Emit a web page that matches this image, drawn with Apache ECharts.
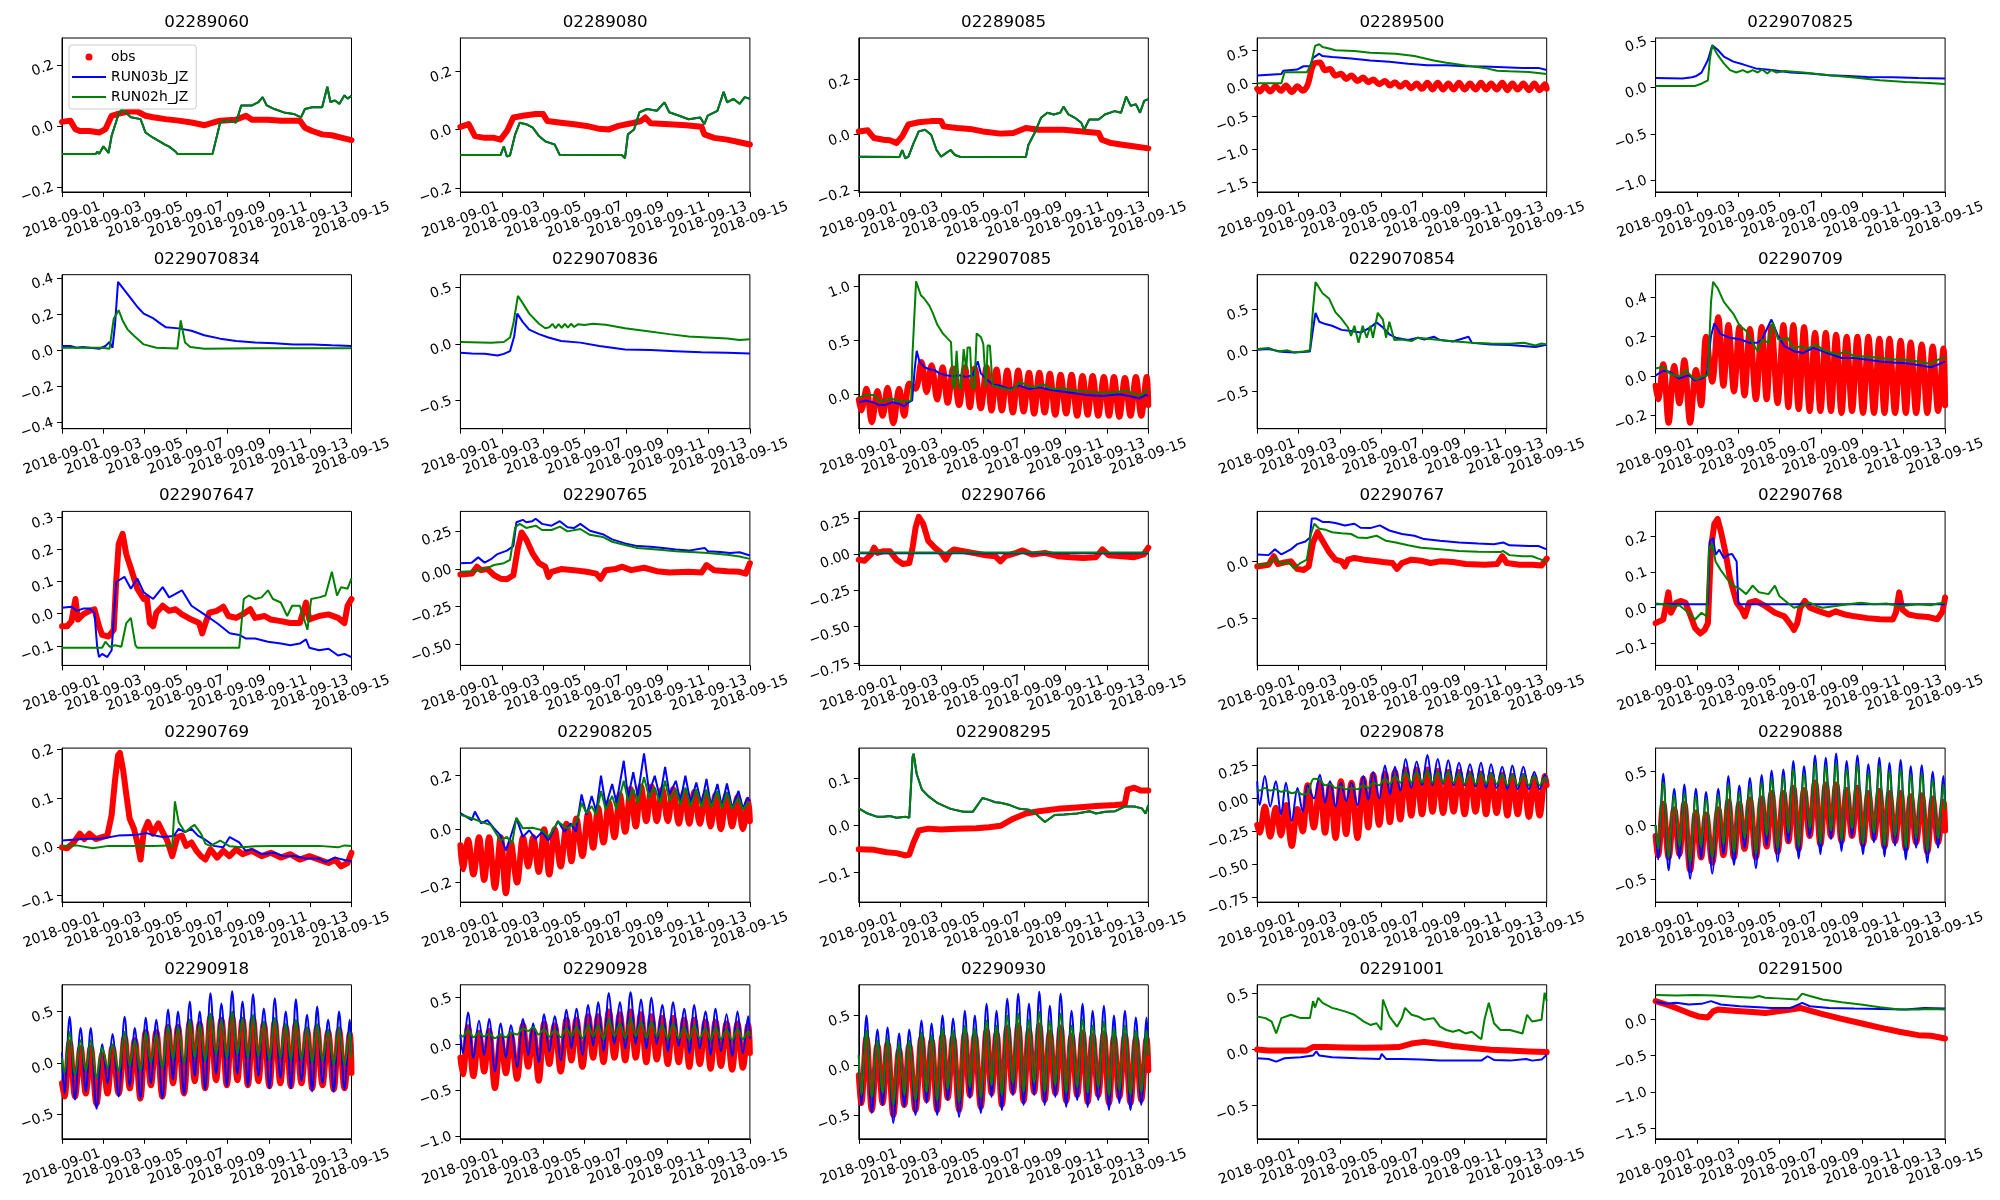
<!DOCTYPE html>
<html><head><meta charset="utf-8">
<script src="https://cdn.jsdelivr.net/npm/echarts@6/dist/echarts.min.js"></script>
<style>html,body{margin:0;padding:0;background:#fff}#c{width:2000px;height:1200px}</style>
</head><body><div id="c"></div>
<script>
// x axis: days since 2018-09-01
const xTickDays = [0, 2, 4, 6, 8, 10, 12, 14];
const seriesNames = ['obs', 'RUN03b_JZ', 'RUN02h_JZ'];
// sample times (days) of tidal peaks / troughs
const tideT = [0,0.12,0.37,0.63,0.90,1.15,1.39,1.67,1.95,2.20,2.44,2.74,3.03,3.28,3.52,3.79,4.05,4.30,4.56,4.85,5.13,5.37,5.61,5.90,6.18,6.42,6.66,6.92,7.18,7.45,7.71,7.97,8.23,8.48,8.73,8.99,9.24,9.50,9.76,10.03,10.29,10.56,10.82,11.07,11.31,11.58,11.85,12.10,12.34,12.60,12.87,13.14,13.40,13.66,13.92,14.0];

// ---- 02289060
const p1Sim = [[0,-0.092],[1.63,-0.092],[1.72,-0.085],[1.8,-0.092],[2.0,-0.067],[2.25,-0.089],[2.4,-0.033],[2.71,0.033],[2.9,0.055],[3.33,0.028],[3.8,0.022],[4.04,-0.022],[4.4,-0.039],[4.7,-0.05],[4.96,-0.061],[5.2,-0.069],[5.5,-0.085],[5.58,-0.092],[7.28,-0.092],[7.65,0.011],[7.96,0.017],[8.42,0.011],[8.67,0.067],[9.19,0.067],[9.5,0.078],[9.7,0.094],[9.9,0.067],[10.27,0.055],[10.73,0.044],[11.2,0.039],[11.56,0.028],[11.75,0.055],[12.1,0.061],[12.58,0.061],[12.83,0.128],[12.98,0.078],[13.2,0.083],[13.42,0.072],[13.66,0.1],[13.81,0.089],[14,0.098]];
const p1Obs = [[0,0.013],[0.4,0.017],[0.65,-0.011],[0.86,-0.017],[1.33,-0.017],[1.8,-0.022],[2.1,-0.011],[2.4,0.033],[2.71,0.039],[3.2,0.047],[3.64,0.047],[4.04,0.033],[4.4,0.028],[5.0,0.022],[5.64,0.017],[6.26,0.011],[6.9,0.002],[7.34,0.011],[7.65,0.017],[8.4,0.02],[8.9,0.033],[9.19,0.02],[9.96,0.02],[10.58,0.017],[11.5,0.017],[11.75,-0.006],[12.1,-0.017],[12.58,-0.028],[13.04,-0.031],[13.5,-0.039],[14,-0.047]];
// ---- 02289080
const p2Sim = [[0,-0.087],[1.94,-0.087],[2.1,-0.057],[2.25,-0.092],[2.4,-0.088],[2.65,-0.016],[2.87,0.024],[3.18,0.019],[3.5,0.007],[3.8,-0.022],[4.1,-0.04],[4.56,-0.051],[4.8,-0.086],[7.8,-0.087],[7.96,-0.098],[8.1,-0.016],[8.4,0.001],[8.66,0.06],[9.03,0.071],[9.5,0.065],[9.87,0.094],[10.1,0.06],[10.58,0.048],[11.04,0.036],[11.6,0.042],[11.8,0.019],[11.96,0.048],[12.43,0.065],[12.73,0.13],[12.9,0.094],[13.2,0.106],[13.5,0.089],[13.75,0.112],[14,0.106]];
const p2Obs = [[0,0.01],[0.4,0.019],[0.7,-0.022],[1.17,-0.028],[1.63,-0.028],[1.94,-0.034],[2.25,-0.005],[2.56,0.042],[3.02,0.048],[3.64,0.054],[4.0,0.054],[4.2,0.03],[4.87,0.024],[5.5,0.019],[6.1,0.013],[6.72,0.003],[7.18,0.001],[7.65,0.013],[8.26,0.022],[8.73,0.03],[8.94,0.042],[9.2,0.022],[10.1,0.019],[10.9,0.015],[11.66,0.01],[11.8,-0.016],[12.27,-0.028],[12.9,-0.034],[13.5,-0.043],[14,-0.051]];
// ---- 02289085
const p3Sim = [[0,-0.079],[1.97,-0.08],[2.1,-0.055],[2.25,-0.085],[2.4,-0.079],[2.65,-0.03],[2.9,0.012],[3.2,0.018],[3.5,0.0],[3.76,-0.055],[3.98,-0.079],[4.2,-0.067],[4.44,-0.055],[4.65,-0.073],[4.9,-0.079],[8.08,-0.08],[8.2,-0.037],[8.5,0.006],[8.81,0.061],[9.12,0.079],[9.43,0.073],[9.74,0.079],[9.9,0.101],[10.14,0.073],[10.45,0.061],[10.76,0.043],[10.9,0.018],[11.14,0.055],[11.6,0.055],[11.9,0.073],[12.37,0.085],[12.68,0.079],[12.93,0.137],[13.15,0.104],[13.4,0.11],[13.6,0.079],[13.8,0.122],[14,0.128]];
const p3Obs = [[0,0.012],[0.43,0.016],[0.74,-0.012],[1.2,-0.018],[1.5,-0.02],[1.82,-0.03],[2.1,-0.006],[2.4,0.037],[2.9,0.045],[3.5,0.049],[3.98,0.049],[4.1,0.03],[4.75,0.024],[5.37,0.021],[6.0,0.012],[6.85,0.004],[7.47,0.006],[8.08,0.024],[8.7,0.018],[9.3,0.018],[9.9,0.018],[10.83,0.012],[11.6,0.006],[11.75,-0.018],[12.2,-0.03],[12.83,-0.037],[13.45,-0.043],[14,-0.049]];
// ---- 02289500
const p4Blue = [[0,0.123],[1.17,0.144],[1.26,0.195],[1.93,0.211],[2.24,0.262],[2.55,0.262],[2.7,0.39],[3.0,0.452],[3.16,0.416],[3.62,0.401],[4.54,0.38],[5.47,0.35],[6.39,0.329],[7.3,0.298],[8.23,0.278],[9.15,0.278],[10.07,0.262],[11.0,0.257],[11.9,0.247],[12.83,0.237],[13.6,0.237],[14,0.206]];
const p4Green = [[0,0.005],[1.17,0.005],[1.32,0.17],[2.4,0.17],[2.6,0.288],[2.8,0.571],[3.0,0.596],[3.16,0.555],[3.47,0.53],[3.78,0.504],[4.7,0.494],[5.47,0.468],[6.7,0.452],[7.6,0.416],[8.54,0.35],[9.15,0.314],[10.07,0.272],[11.0,0.237],[11.6,0.195],[12.2,0.185],[13.14,0.175],[14,0.144]];
const p4Obs = [-0.08,-0.12,-0.04,-0.12,-0.04,-0.11,-0.03,-0.13,-0.04,-0.11,
 -0.02,0.3,0.32,0.2,0.22,0.12,0.15,0.07,0.12,0.04,
 0.09,0.02,0.06,-0.01,0.04,-0.03,0.02,-0.05,0.01,-0.07,
 0.0,-0.08,0.01,-0.09,0.01,-0.09,0.0,-0.09,0.01,-0.09,
 0.0,-0.09,0.01,-0.09,0.0,-0.09,0.01,-0.1,0.0,-0.09,
 0.0,-0.1,0.0,-0.1,-0.01,-0.08];
// ---- 0229070825
const p5Blue = [[0,0.102],[1.3,0.095],[1.76,0.11],[1.97,0.124],[2.22,0.16],[2.53,0.296],[2.74,0.454],[3.0,0.406],[3.3,0.333],[3.76,0.278],[4.22,0.249],[4.84,0.205],[5.6,0.187],[6.54,0.161],[7.46,0.15],[8.39,0.132],[9.3,0.124],[10.24,0.113],[11.47,0.11],[12.7,0.102],[14,0.095]];
const p5Green = [[0,0.015],[1.9,0.015],[2.22,0.04],[2.53,0.077],[2.63,0.315],[2.74,0.454],[3.0,0.351],[3.3,0.26],[3.6,0.187],[3.9,0.161],[4.22,0.187],[4.44,0.161],[4.7,0.187],[4.94,0.161],[5.15,0.194],[5.4,0.15],[5.6,0.187],[5.85,0.161],[6.23,0.176],[7.15,0.161],[8.39,0.132],[9.6,0.106],[10.85,0.077],[12.1,0.059],[13.0,0.051],[14,0.037]];
// ---- 0229070834
const p6Blue = [[0,0.023],[0.4,0.023],[0.7,0.013],[1.0,0.017],[1.8,0.008],[2.1,0.023],[2.3,0.045],[2.44,0.013],[2.56,0.136],[2.71,0.379],[3.0,0.336],[3.33,0.288],[3.64,0.241],[3.95,0.203],[4.4,0.178],[4.78,0.146],[5.03,0.127],[5.64,0.121],[6.26,0.108],[6.88,0.083],[7.65,0.064],[8.42,0.051],[9.34,0.042],[10.27,0.038],[11.2,0.032],[12.1,0.032],[13.04,0.027],[14,0.023]];
const p6Green = [[0,0.013],[1.94,0.013],[2.3,0.008],[2.5,0.174],[2.74,0.222],[2.93,0.165],[3.18,0.114],[3.48,0.08],[3.95,0.032],[4.56,0.013],[5.58,0.009],[5.74,0.165],[5.95,0.042],[6.2,0.017],[6.88,0.008],[9.34,0.01],[14,0.011]];
// ---- 0229070836
const p7Green = [[0,0.018],[1.48,0.012],[2.1,0.018],[2.4,0.057],[2.56,0.178],[2.78,0.425],[3.02,0.358],[3.33,0.268],[3.8,0.178],[4.1,0.139],[4.3,0.148],[4.45,0.178],[4.6,0.139],[4.75,0.175],[4.9,0.142],[5.05,0.178],[5.2,0.145],[5.35,0.178],[5.5,0.15],[5.7,0.175],[6.0,0.168],[6.4,0.178],[7.03,0.169],[7.96,0.139],[8.88,0.117],[10.1,0.087],[11.04,0.066],[11.96,0.057],[12.9,0.048],[13.5,0.036],[14,0.042]];
const p7Blue = [[0,-0.078],[0.55,-0.084],[1.17,-0.087],[1.8,-0.102],[2.1,-0.087],[2.4,-0.063],[2.6,0.066],[2.75,0.268],[3.02,0.193],[3.33,0.127],[3.8,0.087],[4.26,0.057],[4.87,0.027],[5.8,0.012],[6.72,-0.018],[7.96,-0.048],[9.2,-0.054],[10.4,-0.063],[11.66,-0.072],[12.9,-0.078],[14,-0.084]];
// ---- 022907085
const p8Green = [[0,-0.032],[0.35,-0.006],[0.76,-0.006],[1.0,-0.065],[1.24,-0.058],[1.56,-0.039],[1.96,-0.065],[2.29,-0.065],[2.53,-0.058],[2.6,0.387],[2.77,1.048],[2.85,1.06],[3.0,0.919],[3.17,0.887],[3.41,0.823],[3.57,0.758],[3.8,0.645],[4.06,0.565],[4.3,0.516],[4.46,0.484],[4.54,0.097],[4.62,0.048],[4.73,0.403],[4.83,0.097],[4.94,0.048],[5.07,0.419],[5.2,0.226],[5.26,0.435],[5.38,0.435],[5.47,0.065],[5.59,0.048],[5.7,0.565],[5.9,0.532],[6.02,0.468],[6.15,0.065],[6.23,0.452],[6.34,0.452],[6.47,0.081],[6.8,0.065],[7.12,0.048],[7.36,0.039],[7.6,0.071],[7.76,0.113],[8.0,0.097],[8.24,0.071],[8.49,0.065],[8.73,0.081],[8.97,0.09],[9.21,0.058],[9.53,0.048],[9.86,0.058],[10.18,0.039],[10.66,0.032],[10.98,0.026],[11.63,0.016],[12.27,0.016],[12.92,0.032],[13.4,0.0],[13.72,-0.006],[13.88,0.039],[14,0.032]];
const p8Blue = [[0,-0.074],[0.35,-0.058],[0.76,-0.08],[1.0,-0.103],[1.32,-0.097],[1.64,-0.074],[1.96,-0.09],[2.2,-0.113],[2.37,-0.08],[2.58,-0.058],[2.7,0.226],[2.8,0.403],[2.93,0.306],[3.17,0.252],[3.41,0.232],[3.65,0.226],[3.9,0.194],[4.22,0.177],[4.54,0.168],[4.86,0.177],[5.19,0.161],[5.51,0.177],[5.75,0.306],[5.9,0.194],[6.15,0.145],[6.47,0.09],[6.8,0.081],[7.28,0.048],[7.76,0.081],[8.24,0.048],[8.73,0.065],[9.05,0.048],[9.53,0.032],[10.18,0.016],[10.98,-0.006],[11.79,-0.016],[12.6,0.0],[13.08,-0.016],[13.56,-0.039],[13.88,-0.006],[14,-0.016]];
const p8Obs = [-0.05,-0.15,0.05,-0.26,0.03,-0.2,0.06,-0.27,0.05,-0.2,
 0.1,0.05,0.3,0.02,0.27,-0.05,0.25,-0.08,0.24,-0.1,
 0.25,-0.12,0.24,-0.13,0.25,-0.15,0.23,-0.15,0.22,-0.17,
 0.22,-0.16,0.2,-0.18,0.2,-0.17,0.19,-0.19,0.18,-0.18,
 0.18,-0.2,0.17,-0.19,0.17,-0.2,0.16,-0.2,0.16,-0.21,
 0.15,-0.2,0.16,-0.2,0.16,-0.1];
// ---- 0229070854
const p9Green = [[0,0.017],[0.55,0.029],[1.0,-0.013],[1.47,0.0],[1.78,-0.025],[2.24,-0.013],[2.55,0.0],[2.7,0.51],[2.82,0.837],[3.16,0.699],[3.47,0.636],[3.78,0.469],[4.08,0.385],[4.39,0.28],[4.54,0.176],[4.7,0.301],[4.9,0.092],[5.1,0.301],[5.3,0.155],[5.47,0.301],[5.6,0.155],[5.83,0.46],[6.08,0.377],[6.23,0.155],[6.39,0.351],[6.63,0.126],[7.0,0.134],[7.46,0.113],[7.77,0.155],[8.23,0.142],[8.84,0.126],[9.46,0.113],[10.38,0.092],[11.3,0.084],[12.22,0.08],[12.9,0.092],[13.45,0.059],[13.75,0.084],[14,0.071]];
const p9Blue = [[0,0.008],[0.55,0.017],[1.17,-0.017],[1.78,-0.025],[2.55,-0.013],[2.7,0.259],[2.82,0.46],[3.0,0.351],[3.3,0.322],[3.62,0.301],[4.08,0.251],[4.54,0.238],[5.0,0.218],[5.47,0.28],[5.77,0.343],[6.08,0.28],[6.39,0.197],[6.7,0.155],[7.3,0.126],[7.77,0.155],[8.08,0.134],[8.54,0.167],[8.84,0.126],[9.46,0.109],[10.22,0.167],[10.38,0.092],[11.3,0.071],[12.22,0.067],[13.45,0.042],[14,0.067]];
// ---- 02290709
const p10Green = [[0,0.038],[0.37,0.047],[0.68,0.012],[1.14,-0.005],[1.45,0.03],[1.76,-0.005],[1.97,-0.019],[2.22,-0.005],[2.53,0.003],[2.68,0.378],[2.78,0.48],[3.0,0.448],[3.3,0.378],[3.76,0.317],[4.07,0.256],[4.38,0.23],[4.69,0.169],[4.93,0.126],[5.15,0.187],[5.46,0.169],[5.67,0.274],[5.92,0.187],[6.23,0.187],[6.38,0.195],[6.69,0.138],[7.0,0.152],[7.3,0.138],[7.77,0.16],[8.08,0.134],[8.54,0.117],[8.85,0.108],[9.16,0.126],[9.62,0.099],[10.24,0.099],[10.85,0.091],[11.47,0.085],[12.09,0.082],[12.7,0.073],[13.32,0.061],[13.63,0.082],[14,0.096]];
const p10Blue = [[0,0.003],[0.37,0.026],[0.68,0.021],[1.14,-0.014],[1.6,0.003],[1.9,-0.023],[2.22,-0.014],[2.47,0.003],[2.68,0.204],[2.84,0.269],[3.15,0.213],[3.6,0.195],[4.07,0.187],[4.53,0.169],[4.93,0.169],[5.15,0.187],[5.6,0.288],[5.92,0.204],[6.23,0.152],[6.69,0.126],[7.15,0.117],[7.62,0.143],[8.08,0.126],[8.54,0.108],[9.0,0.091],[9.62,0.091],[10.24,0.082],[10.85,0.073],[11.47,0.068],[12.09,0.065],[12.7,0.056],[13.32,0.044],[13.63,0.056],[14,0.073]];
const p10Obs = [-0.05,-0.12,0.06,-0.24,0.05,-0.14,0.08,-0.24,0.03,-0.15,
 0.2,-0.03,0.3,-0.05,0.26,-0.08,0.25,-0.1,0.24,-0.12,
 0.25,-0.12,0.25,-0.14,0.26,-0.16,0.26,-0.17,0.25,-0.18,
 0.22,-0.18,0.22,-0.18,0.21,-0.19,0.2,-0.18,0.2,-0.19,
 0.2,-0.19,0.19,-0.19,0.19,-0.19,0.18,-0.19,0.17,-0.19,
 0.16,-0.19,0.15,-0.18,0.14,-0.15];
// ---- 022907647
const p11Obs = [[0,-0.039],[0.25,-0.039],[0.46,-0.023],[0.65,0.046],[0.77,-0.018],[1.02,-0.002],[1.33,0.009],[1.57,0.014],[1.79,-0.039],[1.94,-0.066],[2.25,-0.071],[2.5,-0.05],[2.62,0.099],[2.74,0.217],[2.93,0.249],[3.11,0.185],[3.33,0.142],[3.64,0.078],[3.95,0.046],[4.1,0.051],[4.25,-0.029],[4.41,-0.039],[4.56,0.003],[4.87,0.025],[5.18,0.009],[5.49,0.014],[5.8,-0.002],[6.26,-0.018],[6.63,-0.029],[6.78,-0.061],[6.94,-0.029],[7.12,0.003],[7.49,0.009],[7.8,0.022],[8.05,-0.007],[8.42,-0.013],[8.73,-0.002],[9.1,0.014],[9.34,-0.013],[9.8,-0.007],[10.1,-0.018],[10.58,-0.023],[11.04,-0.029],[11.5,-0.029],[11.8,0.035],[11.96,-0.018],[12.43,-0.007],[12.89,-0.002],[13.35,-0.013],[13.66,-0.029],[13.81,0.025],[14,0.046]];
const p11Blue = [[0,0.019],[0.46,0.022],[0.71,0.009],[1.02,0.016],[1.33,0.016],[1.57,0.003],[1.7,-0.103],[1.79,-0.135],[1.94,-0.125],[2.19,-0.135],[2.4,-0.114],[2.62,0.099],[3.02,0.115],[3.33,0.078],[3.64,0.11],[3.95,0.067],[4.41,0.046],[4.87,0.083],[5.18,0.051],[5.8,0.073],[6.26,0.025],[6.88,-0.002],[7.49,-0.029],[8.11,-0.061],[8.57,-0.066],[8.88,-0.077],[9.34,-0.077],[9.96,-0.087],[10.58,-0.093],[11.04,-0.098],[11.5,-0.093],[11.8,-0.08],[11.96,-0.106],[12.43,-0.114],[12.89,-0.109],[13.35,-0.13],[13.66,-0.125],[14,-0.135]];
const p11Green = [[0,-0.106],[1.94,-0.106],[2.1,-0.087],[2.31,-0.103],[2.56,-0.098],[2.87,-0.103],[3.11,-0.029],[3.33,-0.013],[3.55,-0.098],[3.64,-0.106],[8.57,-0.106],[8.79,0.046],[9.03,0.057],[9.34,0.046],[9.65,0.051],[9.96,0.073],[10.2,0.046],[10.58,0.035],[10.89,-0.007],[11.13,0.025],[11.5,0.025],[11.87,-0.05],[12.05,0.046],[12.43,0.051],[12.74,0.057],[13.05,0.131],[13.3,0.057],[13.5,0.083],[13.81,0.078],[14,0.11]];
// ---- 02290765
const p12Blue = [[0,0.039],[0.55,0.043],[0.86,0.078],[1.17,0.043],[1.48,0.066],[1.79,0.1],[2.25,0.123],[2.56,0.153],[2.71,0.312],[3.02,0.328],[3.18,0.312],[3.48,0.319],[3.64,0.335],[3.95,0.301],[4.41,0.289],[4.81,0.319],[5.18,0.278],[5.49,0.273],[5.8,0.301],[6.26,0.255],[6.88,0.232],[7.34,0.198],[7.96,0.171],[8.57,0.153],[9.19,0.148],[9.8,0.141],[10.42,0.13],[11.04,0.123],[11.81,0.141],[11.97,0.119],[12.58,0.114],[13.04,0.107],[13.5,0.112],[14,0.091]];
const p12Green = [[0,-0.018],[0.71,-0.014],[1.17,0.0],[1.63,0.027],[2.1,0.039],[2.4,0.062],[2.65,0.278],[2.87,0.301],[3.18,0.274],[3.64,0.289],[3.95,0.26],[4.41,0.26],[4.81,0.283],[5.18,0.251],[5.8,0.267],[6.26,0.228],[6.88,0.214],[7.34,0.182],[7.96,0.16],[8.57,0.141],[9.5,0.13],[10.42,0.119],[11.35,0.112],[11.97,0.107],[12.9,0.096],[13.5,0.084],[14,0.068]];
const p12Obs = [[0,-0.036],[0.55,-0.03],[0.8,0.016],[1.0,-0.007],[1.32,0.0],[1.63,-0.041],[1.94,-0.064],[2.25,-0.068],[2.56,-0.041],[2.78,0.141],[2.96,0.244],[3.18,0.198],[3.48,0.107],[3.8,0.039],[4.1,0.016],[4.26,-0.052],[4.41,-0.018],[4.87,0.0],[5.49,-0.007],[6.1,-0.018],[6.57,-0.03],[6.78,-0.064],[7.03,-0.007],[7.5,0.0],[7.8,0.016],[8.26,-0.007],[8.88,0.009],[9.5,-0.014],[10.11,-0.023],[11.04,-0.018],[11.66,-0.023],[11.9,0.027],[12.27,-0.007],[12.9,-0.014],[13.5,-0.018],[13.8,-0.03],[14,0.039]];
// ---- 02290766
const p13Obs = [[0,-0.038],[0.28,-0.045],[0.59,-0.002],[0.74,0.045],[0.9,0.009],[1.2,0.021],[1.5,0.021],[1.82,-0.038],[2.13,-0.068],[2.44,-0.061],[2.6,0.045],[2.75,0.186],[2.9,0.257],[3.11,0.21],[3.36,0.092],[3.67,0.045],[3.98,0.009],[4.2,-0.038],[4.38,0.009],[4.6,0.033],[5.06,0.021],[5.52,0.009],[6.14,-0.007],[6.6,-0.014],[6.85,-0.05],[7.09,-0.014],[7.62,0.009],[7.92,0.026],[8.38,-0.002],[9.0,0.009],[9.62,-0.014],[10.23,-0.021],[10.85,-0.026],[11.47,-0.021],[11.78,0.033],[12.09,-0.007],[12.7,-0.014],[13.32,-0.021],[13.78,-0.002],[14,0.045]];
const p13Blue = [[0,0.007],[14,0.007]];
const p13Green = [[0,0.012],[14,0.012]];
// ---- 02290767
const p14Blue = [[0,0.064],[0.55,0.058],[0.86,0.109],[1.17,0.064],[1.63,0.109],[1.93,0.155],[2.33,0.179],[2.55,0.215],[2.64,0.382],[2.86,0.382],[3.16,0.352],[3.47,0.352],[3.78,0.342],[4.24,0.321],[4.7,0.336],[5.0,0.3],[5.47,0.297],[5.93,0.321],[6.39,0.276],[7.0,0.245],[7.6,0.23],[8.07,0.2],[8.84,0.185],[9.76,0.17],[10.68,0.161],[11.45,0.155],[11.9,0.17],[12.2,0.145],[13.14,0.139],[13.6,0.139],[14,0.109]];
const p14Green = [[0,-0.027],[0.55,-0.021],[0.86,0.033],[1.17,-0.021],[1.47,0.003],[1.78,-0.058],[2.09,-0.012],[2.4,0.018],[2.6,0.245],[2.76,0.336],[3.0,0.291],[3.32,0.282],[3.62,0.26],[4.08,0.251],[4.54,0.245],[4.85,0.215],[5.3,0.209],[5.77,0.23],[6.23,0.185],[6.7,0.17],[7.3,0.145],[7.92,0.124],[8.84,0.109],[9.76,0.094],[10.68,0.088],[11.76,0.085],[11.9,0.094],[12.2,0.058],[12.83,0.048],[13.3,0.048],[13.6,0.027],[14,0.003]];
const p14Obs = [[0,-0.042],[0.55,-0.027],[0.8,0.048],[1.0,-0.021],[1.32,-0.006],[1.63,0.003],[1.93,-0.064],[2.24,-0.073],[2.49,-0.042],[2.7,0.17],[2.92,0.261],[3.16,0.185],[3.47,0.088],[3.78,0.018],[4.08,0.003],[4.24,-0.042],[4.39,0.018],[4.7,0.033],[5.16,0.018],[5.62,0.009],[6.08,-0.003],[6.54,-0.012],[6.76,-0.064],[7.0,-0.012],[7.46,0.018],[7.92,0.009],[8.38,-0.012],[8.84,0.003],[9.46,-0.003],[10.07,-0.021],[11.0,-0.027],[11.6,-0.021],[11.85,0.048],[12.07,-0.012],[12.68,-0.027],[13.3,-0.027],[13.75,-0.033],[14,0.027]];
// ---- 02290768
const p15Blue = [[0,0.01],[2.53,0.01],[2.62,0.186],[2.78,0.194],[2.9,0.148],[3.08,0.162],[3.3,0.138],[3.52,0.148],[3.7,0.15],[3.92,0.129],[4.0,0.01],[14,0.01]];
const p15Green = [[0,0.012],[0.37,0.01],[0.83,0.005],[1.14,0.007],[1.6,-0.014],[1.91,-0.033],[2.22,-0.014],[2.47,-0.024],[2.59,0.167],[2.74,0.179],[2.9,0.129],[3.15,0.105],[3.45,0.081],[3.76,0.062],[4.07,0.053],[4.38,0.038],[4.69,0.062],[5.0,0.043],[5.46,0.038],[5.77,0.062],[5.98,0.033],[6.38,0.014],[6.69,0.0],[7.0,0.005],[7.46,0.014],[7.77,0.005],[8.08,0.0],[8.7,0.005],[9.31,0.01],[9.93,0.014],[10.55,0.01],[11.16,0.012],[11.78,0.005],[12.24,0.007],[12.7,0.01],[13.32,0.007],[13.63,0.012],[14,0.014]];
const p15Obs = [[0,-0.043],[0.37,-0.033],[0.62,0.043],[0.74,-0.014],[0.99,0.014],[1.23,0.019],[1.45,0.014],[1.7,-0.024],[1.91,-0.057],[2.16,-0.072],[2.37,-0.062],[2.53,-0.043],[2.68,0.167],[2.84,0.234],[3.0,0.248],[3.15,0.215],[3.4,0.148],[3.6,0.081],[3.92,0.014],[4.16,-0.005],[4.32,-0.024],[4.53,0.014],[4.84,0.019],[5.3,0.005],[5.77,-0.014],[6.23,-0.024],[6.54,-0.048],[6.69,-0.062],[6.85,-0.043],[7.0,0.0],[7.22,0.019],[7.46,0.0],[7.92,-0.01],[8.39,-0.019],[8.7,-0.01],[9.16,-0.019],[9.62,-0.024],[10.24,-0.029],[10.85,-0.032],[11.47,-0.033],[11.62,-0.014],[11.78,0.043],[11.93,-0.005],[12.24,-0.019],[12.7,-0.024],[13.17,-0.026],[13.63,-0.032],[13.88,-0.01],[14,0.029]];
// ---- 02290769
const p16Obs = [[0,-0.001],[0.25,-0.003],[0.56,0.009],[0.86,0.027],[1.08,0.016],[1.33,0.027],[1.63,0.016],[1.94,0.02],[2.19,0.023],[2.4,0.065],[2.56,0.135],[2.71,0.187],[2.8,0.192],[2.96,0.156],[3.11,0.107],[3.27,0.058],[3.48,0.037],[3.64,0.009],[3.8,-0.026],[3.95,0.03],[4.16,0.051],[4.4,0.027],[4.66,0.048],[4.87,0.03],[5.09,0.013],[5.33,-0.019],[5.58,0.02],[5.8,0.023],[6.0,0.002],[6.26,0.009],[6.5,-0.008],[6.72,-0.019],[6.94,-0.026],[7.18,-0.005],[7.5,-0.022],[7.8,-0.008],[8.1,-0.019],[8.42,-0.005],[8.73,-0.015],[9.19,-0.008],[9.65,-0.019],[10.1,-0.012],[10.58,-0.022],[11.04,-0.015],[11.5,-0.026],[11.96,-0.019],[12.43,-0.026],[12.89,-0.033],[13.2,-0.026],[13.5,-0.04],[13.81,-0.033],[14,-0.012]];
const p16Blue = [[0,0.013],[1.02,0.016],[1.94,0.017],[2.71,0.023],[3.48,0.024],[4.1,0.028],[4.4,0.024],[4.87,0.02],[5.4,0.022],[5.64,0.037],[5.95,0.03],[6.26,0.037],[6.57,0.023],[6.88,0.016],[7.34,0.002],[7.8,-0.001],[8.11,0.02],[8.57,0.009],[8.88,-0.008],[9.19,-0.005],[9.65,-0.015],[10.27,-0.012],[10.73,-0.019],[11.2,-0.018],[11.81,-0.024],[12.43,-0.024],[12.74,-0.031],[13.2,-0.022],[13.66,-0.027],[14,-0.029]];
const p16Green = [[0,0.002],[0.71,0.003],[1.48,-0.003],[2.25,0.002],[3.18,0.002],[4.4,0.002],[5.18,0.003],[5.33,0.0],[5.46,0.093],[5.64,0.051],[5.95,0.03],[6.26,0.041],[6.41,0.045],[6.72,0.027],[6.94,0.006],[7.18,0.002],[7.65,0.013],[8.11,0.001],[8.73,-0.001],[9.34,0.001],[10.27,0.002],[11.2,0.002],[12.43,0.002],[13.35,-0.001],[13.66,0.003],[14,0.002]];
// ---- 022908205
const p17Blue = [[0,0.06],[0.55,0.034],[0.7,0.066],[1.0,0.022],[1.3,0.034],[1.63,0.003],[1.94,-0.023],[2.19,-0.08],[2.4,-0.036],[2.71,0.041],[3.02,-0.029],[3.33,-0.004],[3.64,-0.036],[3.95,-0.01],[4.26,-0.042],[4.72,0.031],[5.03,-0.01],[5.33,0.022],[5.58,-0.01],[5.86,0.13],[6.1,0.054],[6.35,0.124],[6.57,0.066],[6.8,0.2],[7.03,0.086],[7.34,0.169],[7.55,0.098],[7.9,0.256],[8.11,0.117],[8.36,0.213],[8.57,0.124],[8.88,0.284],[9.13,0.137],[9.4,0.2],[9.65,0.117],[9.9,0.233],[10.11,0.13],[10.42,0.181],[10.64,0.105],[10.88,0.2],[11.13,0.098],[11.41,0.175],[11.66,0.092],[11.9,0.188],[12.12,0.086],[12.43,0.169],[12.64,0.086],[12.89,0.171],[13.14,0.079],[13.45,0.143],[13.66,0.077],[13.88,0.118],[14,0.105]];
const p17Green = [[0,0.054],[0.55,0.041],[1.0,0.028],[1.48,0.015],[1.94,-0.042],[2.25,-0.029],[2.5,-0.055],[2.71,0.043],[3.02,0.003],[3.48,0.005],[3.95,-0.004],[4.26,-0.029],[4.72,0.028],[5.18,0.003],[5.64,0.028],[5.86,0.098],[6.1,0.06],[6.35,0.086],[6.57,0.054],[6.8,0.143],[7.03,0.073],[7.34,0.124],[7.55,0.073],[7.9,0.181],[8.11,0.105],[8.36,0.149],[8.57,0.098],[8.88,0.194],[9.13,0.118],[9.4,0.156],[9.65,0.098],[9.9,0.181],[10.11,0.105],[10.42,0.149],[10.64,0.092],[10.88,0.156],[11.13,0.086],[11.41,0.149],[11.66,0.082],[11.9,0.149],[12.12,0.082],[12.43,0.143],[12.64,0.079],[12.89,0.137],[13.14,0.077],[13.45,0.118],[13.66,0.073],[13.88,0.098],[14,0.092]];
const p17Obs = [-0.06,-0.15,-0.04,-0.17,-0.03,-0.19,-0.03,-0.22,-0.03,-0.24,
 -0.05,-0.2,-0.03,-0.14,-0.03,-0.16,0.0,-0.17,0.0,-0.14,
 0.02,-0.12,0.04,-0.1,0.06,-0.07,0.08,-0.05,0.1,-0.03,
 0.13,-0.01,0.15,0.01,0.16,0.03,0.16,0.03,0.15,0.03,
 0.15,0.02,0.14,0.02,0.14,0.02,0.13,0.01,0.13,0.0,
 0.13,0.01,0.12,0.0,0.11,0.03];
// ---- 022908295
const p18Sim = [[0,0.036],[0.43,0.025],[0.9,0.018],[1.2,0.018],[1.5,0.02],[1.82,0.016],[2.28,0.018],[2.44,0.016],[2.6,0.145],[2.65,0.152],[2.8,0.109],[3.05,0.076],[3.36,0.062],[3.82,0.047],[4.44,0.035],[5.06,0.029],[5.52,0.029],[5.98,0.058],[6.29,0.054],[6.6,0.049],[6.85,0.048],[7.3,0.043],[7.77,0.035],[8.23,0.033],[8.54,0.025],[9.0,0.007],[9.47,0.022],[9.93,0.023],[10.55,0.025],[11.16,0.03],[11.47,0.025],[11.93,0.029],[12.4,0.03],[12.86,0.04],[13.32,0.04],[13.69,0.036],[13.87,0.025],[14,0.043]];
const p18Obs = [[0,-0.051],[0.74,-0.052],[1.35,-0.057],[1.82,-0.059],[2.28,-0.064],[2.44,-0.062],[2.65,-0.036],[2.9,-0.011],[3.36,-0.007],[3.98,-0.009],[4.75,-0.007],[5.68,-0.006],[6.29,-0.004],[6.85,-0.001],[7.47,0.014],[8.08,0.025],[8.7,0.03],[9.62,0.035],[10.55,0.038],[11.47,0.041],[12.4,0.043],[12.86,0.045],[13.0,0.076],[13.32,0.08],[13.63,0.074],[14,0.074]];
// ---- 02290878
const p19Blue = [0.13,-0.05,0.17,-0.06,0.13,-0.12,0.12,-0.17,0.08,-0.1,
 0.1,0.0,0.18,-0.03,0.13,-0.06,0.12,-0.02,0.12,-0.05,
 0.17,-0.01,0.2,0.0,0.25,0.03,0.24,0.06,0.3,0.08,
 0.28,0.1,0.33,0.1,0.3,0.11,0.29,0.1,0.27,0.1,
 0.26,0.09,0.27,0.08,0.26,0.08,0.24,0.07,0.25,0.07,
 0.24,0.07,0.2,0.07,0.18,0.12];
const p19Green = [0.07,0.06,0.08,0.06,0.07,0.05,0.06,0.04,0.05,0.03,
 0.04,0.15,0.14,0.1,0.11,0.08,0.09,0.07,0.08,0.07,
 0.1,0.08,0.12,0.1,0.15,0.11,0.17,0.12,0.2,0.12,
 0.2,0.12,0.21,0.12,0.2,0.12,0.2,0.12,0.19,0.11,
 0.19,0.11,0.19,0.11,0.19,0.11,0.18,0.1,0.18,0.1,
 0.18,0.1,0.17,0.1,0.16,0.12];
const p19Obs = [-0.2,-0.26,-0.06,-0.29,-0.07,-0.28,-0.05,-0.36,-0.08,-0.25,
 0.1,-0.22,0.12,-0.26,0.1,-0.3,0.13,-0.27,0.12,-0.3,
 0.15,-0.22,0.18,-0.2,0.19,-0.18,0.2,-0.16,0.22,-0.13,
 0.22,-0.12,0.22,-0.1,0.21,-0.11,0.2,-0.1,0.2,-0.12,
 0.19,-0.1,0.19,-0.12,0.18,-0.11,0.18,-0.13,0.17,-0.12,
 0.17,-0.14,0.16,-0.13,0.17,0.1];
// ---- 02290888
const p20Blue = [0.0,-0.32,0.48,-0.42,0.34,-0.31,0.38,-0.5,0.34,-0.31,
 0.31,-0.45,0.34,-0.27,0.46,-0.37,0.37,-0.21,0.44,-0.4,
 0.47,-0.19,0.51,-0.34,0.52,-0.16,0.6,-0.31,0.55,-0.11,
 0.65,-0.27,0.63,-0.13,0.67,-0.24,0.6,-0.11,0.65,-0.27,
 0.57,-0.16,0.63,-0.29,0.58,-0.19,0.61,-0.32,0.55,-0.21,
 0.56,-0.35,0.5,-0.21,0.46,0.2];
const p20Green = [0.0,-0.22,0.4,-0.3,0.28,-0.2,0.3,-0.35,0.27,-0.2,
 0.25,-0.3,0.28,-0.18,0.38,-0.25,0.3,-0.12,0.36,-0.27,
 0.4,-0.1,0.43,-0.22,0.45,-0.07,0.52,-0.2,0.48,-0.03,
 0.57,-0.17,0.55,-0.05,0.58,-0.14,0.52,-0.03,0.56,-0.17,
 0.49,-0.07,0.55,-0.19,0.5,-0.1,0.52,-0.21,0.47,-0.12,
 0.48,-0.24,0.42,-0.12,0.38,0.15];
const p20Obs = [-0.1,-0.28,0.2,-0.3,0.15,-0.27,0.2,-0.42,0.12,-0.3,
 0.1,-0.35,0.15,-0.28,0.22,-0.3,0.2,-0.22,0.24,-0.3,
 0.25,-0.2,0.3,-0.25,0.3,-0.15,0.35,-0.22,0.33,-0.1,
 0.4,-0.18,0.38,-0.1,0.38,-0.15,0.33,-0.1,0.35,-0.18,
 0.3,-0.12,0.32,-0.2,0.3,-0.15,0.3,-0.22,0.27,-0.16,
 0.28,-0.25,0.25,-0.16,0.22,-0.05];
// ---- 02290918
const p21Blue = [0.1,-0.3,0.45,-0.36,0.34,-0.28,0.34,-0.45,0.18,-0.2,
 0.28,-0.33,0.45,-0.23,0.34,-0.35,0.44,-0.2,0.42,-0.35,
 0.52,-0.16,0.5,-0.31,0.6,-0.13,0.5,-0.26,0.68,-0.11,
 0.58,-0.23,0.7,-0.11,0.6,-0.23,0.67,-0.13,0.53,-0.25,
 0.63,-0.15,0.5,-0.25,0.62,-0.18,0.47,-0.28,0.55,-0.2,
 0.42,-0.28,0.5,-0.26,0.42,0.1];
const p21Green = [0.05,-0.1,0.3,-0.12,0.22,-0.08,0.22,-0.15,0.15,-0.05,
 0.18,-0.08,0.3,-0.03,0.22,-0.08,0.3,0.0,0.28,-0.05,
 0.36,0.03,0.35,0.0,0.42,0.05,0.38,0.02,0.48,0.08,
 0.42,0.05,0.5,0.08,0.44,0.05,0.47,0.06,0.4,0.03,
 0.44,0.05,0.38,0.02,0.42,0.03,0.35,0.0,0.38,0.02,
 0.32,-0.02,0.35,-0.02,0.3,0.05];
const p21Obs = [-0.2,-0.33,0.2,-0.33,0.15,-0.3,0.15,-0.4,0.08,-0.3,
 0.15,-0.3,0.25,-0.25,0.22,-0.35,0.3,-0.22,0.3,-0.33,
 0.35,-0.2,0.35,-0.3,0.4,-0.18,0.38,-0.25,0.45,-0.17,
 0.42,-0.22,0.45,-0.17,0.42,-0.22,0.43,-0.18,0.38,-0.23,
 0.4,-0.2,0.35,-0.23,0.38,-0.2,0.32,-0.25,0.35,-0.22,
 0.3,-0.26,0.32,-0.25,0.28,-0.1];
// ---- 02290928
const p22Blue = [0.1,-0.1,0.34,-0.15,0.25,-0.12,0.27,-0.3,0.22,-0.15,
 0.2,-0.25,0.27,-0.12,0.22,-0.2,0.32,-0.08,0.3,-0.18,
 0.37,-0.05,0.38,-0.12,0.42,-0.02,0.45,-0.08,0.55,0.0,
 0.45,-0.05,0.56,0.0,0.48,-0.05,0.5,0.0,0.42,-0.08,
 0.45,-0.02,0.38,-0.1,0.42,-0.05,0.35,-0.12,0.38,-0.08,
 0.32,-0.13,0.35,-0.1,0.3,0.05];
const p22Green = [0.1,0.08,0.15,0.07,0.12,0.08,0.11,0.06,0.1,0.07,
 0.12,0.1,0.17,0.14,0.18,0.1,0.16,0.08,0.15,0.07,
 0.17,0.08,0.18,0.06,0.2,0.08,0.2,0.05,0.27,0.08,
 0.22,0.06,0.28,0.08,0.24,0.06,0.24,0.08,0.2,0.05,
 0.22,0.06,0.18,0.04,0.2,0.06,0.17,0.04,0.18,0.05,
 0.15,0.04,0.16,0.05,0.14,0.08];
const p22Obs = [-0.15,-0.33,0.18,-0.35,0.12,-0.3,0.14,-0.48,0.08,-0.32,
 0.1,-0.38,0.2,-0.25,0.15,-0.4,0.22,-0.22,0.2,-0.3,
 0.26,-0.18,0.26,-0.25,0.3,-0.15,0.3,-0.2,0.35,-0.15,
 0.32,-0.18,0.35,-0.15,0.32,-0.2,0.3,-0.17,0.28,-0.22,
 0.28,-0.2,0.26,-0.25,0.26,-0.22,0.24,-0.27,0.24,-0.24,
 0.22,-0.28,0.22,-0.26,0.2,-0.1];
// ---- 02290930
const p23Blue = [0.1,-0.4,0.5,-0.48,0.36,-0.4,0.38,-0.58,0.32,-0.42,
 0.36,-0.5,0.45,-0.38,0.42,-0.5,0.5,-0.35,0.47,-0.52,
 0.55,-0.33,0.5,-0.48,0.62,-0.32,0.55,-0.45,0.67,-0.3,
 0.72,-0.4,0.62,-0.3,0.74,-0.4,0.6,-0.32,0.72,-0.42,
 0.55,-0.35,0.62,-0.42,0.55,-0.35,0.6,-0.45,0.5,-0.38,
 0.55,-0.45,0.48,-0.4,0.48,0.1];
const p23Green = [0.1,-0.3,0.35,-0.32,0.25,-0.28,0.27,-0.4,0.22,-0.3,
 0.25,-0.35,0.33,-0.27,0.3,-0.35,0.37,-0.24,0.35,-0.37,
 0.4,-0.22,0.37,-0.33,0.45,-0.2,0.4,-0.3,0.5,-0.18,
 0.52,-0.27,0.46,-0.18,0.54,-0.27,0.45,-0.2,0.52,-0.28,
 0.4,-0.22,0.46,-0.28,0.4,-0.22,0.44,-0.3,0.37,-0.25,
 0.4,-0.3,0.35,-0.27,0.35,0.1];
const p23Obs = [-0.1,-0.38,0.28,-0.45,0.2,-0.38,0.22,-0.5,0.15,-0.4,
 0.2,-0.45,0.28,-0.35,0.25,-0.45,0.3,-0.33,0.28,-0.45,
 0.32,-0.3,0.3,-0.42,0.35,-0.28,0.32,-0.4,0.38,-0.27,
 0.4,-0.36,0.35,-0.27,0.4,-0.35,0.33,-0.28,0.38,-0.36,
 0.3,-0.3,0.33,-0.37,0.3,-0.3,0.32,-0.38,0.28,-0.32,
 0.3,-0.38,0.27,-0.35,0.27,-0.05];
// ---- 02291001
const p24Green = [[0,0.294],[0.4,0.279],[0.7,0.248],[0.92,0.142],[1.17,0.279],[1.63,0.309],[2.1,0.279],[2.55,0.279],[2.7,0.43],[2.8,0.373],[2.95,0.46],[3.16,0.415],[3.62,0.37],[3.93,0.355],[4.24,0.339],[4.7,0.309],[5.16,0.248],[5.47,0.218],[5.77,0.233],[6.0,0.173],[6.08,0.445],[6.39,0.294],[6.76,0.203],[7.0,0.279],[7.15,0.37],[7.46,0.309],[7.77,0.294],[8.08,0.264],[8.54,0.279],[8.84,0.203],[9.15,0.173],[9.46,0.158],[9.76,0.173],[10.07,0.142],[10.38,0.158],[10.68,0.112],[10.84,0.091],[10.99,0.264],[11.2,0.415],[11.45,0.233],[11.76,0.173],[12.22,0.173],[12.53,0.158],[12.83,0.142],[13.05,0.309],[13.3,0.248],[13.75,0.264],[13.9,0.506],[14,0.43]];
const p24Blue = [[0,-0.079],[0.55,-0.085],[0.92,-0.109],[1.32,-0.079],[2.1,-0.07],[2.7,-0.055],[2.86,-0.018],[3.0,-0.055],[3.62,-0.07],[4.85,-0.079],[5.93,-0.085],[6.02,-0.039],[6.23,-0.085],[7.0,-0.085],[7.92,-0.091],[8.84,-0.1],[9.76,-0.1],[10.84,-0.1],[11.14,-0.061],[11.45,-0.094],[12.22,-0.1],[13.0,-0.085],[13.3,-0.1],[13.75,-0.091],[14,-0.048]];
const p24Obs = [[0,0.0],[0.55,-0.009],[1.47,-0.009],[2.4,-0.009],[2.7,0.021],[3.32,0.021],[4.24,0.018],[5.16,0.015],[6.08,0.018],[6.85,0.021],[7.46,0.052],[8.08,0.067],[8.7,0.052],[9.46,0.03],[10.38,0.012],[11.3,-0.003],[12.22,-0.009],[13.14,-0.018],[14,-0.024]];
// ---- 02291500
const p25Green = [[0,0.326],[0.99,0.321],[1.91,0.326],[2.84,0.321],[3.76,0.303],[4.69,0.289],[5.0,0.312],[5.3,0.289],[5.92,0.28],[6.85,0.265],[7.09,0.345],[7.46,0.312],[8.08,0.265],[9.0,0.228],[9.93,0.196],[10.85,0.158],[11.78,0.126],[12.7,0.126],[13.32,0.135],[14,0.126]];
const p25Blue = [[0,0.233],[0.52,0.205],[0.99,0.219],[1.6,0.196],[2.22,0.205],[2.68,0.242],[3.15,0.196],[4.07,0.172],[5.0,0.158],[5.6,0.149],[6.54,0.149],[7.09,0.219],[7.46,0.172],[8.39,0.149],[9.62,0.14],[10.85,0.135],[12.09,0.126],[13.0,0.149],[14,0.14]];
const p25Obs = [[0,0.242],[0.52,0.196],[0.99,0.149],[1.6,0.079],[2.07,0.033],[2.53,0.019],[2.78,0.102],[3.0,0.126],[3.76,0.112],[4.69,0.093],[5.3,0.079],[5.92,0.102],[6.54,0.126],[7.0,0.149],[7.46,0.112],[8.08,0.065],[9.0,0.0],[9.93,-0.061],[10.85,-0.121],[11.78,-0.177],[12.7,-0.224],[13.32,-0.233],[14,-0.27]];

// station titles and y-axis extents / tick labels
const titles = ['02289060','02289080','02289085','02289500','0229070825',
 '0229070834','0229070836','022907085','0229070854','02290709',
 '022907647','02290765','02290766','02290767','02290768',
 '02290769','022908205','022908295','02290878','02290888',
 '02290918','02290928','02290930','02291001','02291500'];
const yRanges = [[-0.217,0.288],[-0.214,0.315],[-0.206,0.348],[-1.644,0.69],[-1.128,0.533],
 [-0.436,0.419],[-0.747,0.611],[-0.32,1.11],[-0.96,0.927],[-0.27,0.517],
 [-0.161,0.319],[-0.641,0.384],[-0.767,0.295],[-0.918,0.445],[-0.161,0.269],
 [-0.113,0.202],[-0.273,0.3035],[-0.163,0.164],[-0.786,0.382],[-0.717,0.72],
 [-0.743,0.762],[-1.03,0.64],[-0.74,0.81],[-0.797,0.576],[-1.644,0.466]];
const yTicks = [[-0.2,0,0.2],[-0.2,0,0.2],[-0.2,0,0.2],[-1.5,-1,-0.5,0,0.5],[-1,-0.5,0,0.5],
 [-0.4,-0.2,0,0.2,0.4],[-0.5,0,0.5],[0,0.5,1],[-0.5,0,0.5],[-0.2,0,0.2,0.4],
 [-0.1,0,0.1,0.2,0.3],[-0.5,-0.25,0,0.25],[-0.75,-0.5,-0.25,0,0.25],[-0.5,0],[-0.1,0,0.1,0.2],
 [-0.1,0,0.1,0.2],[-0.2,0,0.2],[-0.1,0,0.1],[-0.75,-0.5,-0.25,0,0.25],[-0.5,0,0.5],
 [-0.5,0,0.5],[-1,-0.5,0,0.5],[-0.5,0,0.5],[-0.5,0,0.5],[-1.5,-1,-0.5,0]];
const yDecimals = [1,1,1,1,1, 1,1,1,1,1, 1,2,2,1,1, 1,1,1,2,1, 1,1,1,1,1];
const obsData = [p1Obs,p2Obs,p3Obs,p4Obs,null, null,null,p8Obs,null,p10Obs,
 p11Obs,p12Obs,p13Obs,p14Obs,p15Obs, p16Obs,p17Obs,p18Obs,p19Obs,p20Obs,
 p21Obs,p22Obs,p23Obs,p24Obs,p25Obs];
const blueData = [p1Sim,p2Sim,p3Sim,p4Blue,p5Blue, p6Blue,p7Blue,p8Blue,p9Blue,p10Blue,
 p11Blue,p12Blue,p13Blue,p14Blue,p15Blue, p16Blue,p17Blue,p18Sim,p19Blue,p20Blue,
 p21Blue,p22Blue,p23Blue,p24Blue,p25Blue];
const greenData = [p1Sim,p2Sim,p3Sim,p4Green,p5Green, p6Green,p7Green,p8Green,p9Green,p10Green,
 p11Green,p12Green,p13Green,p14Green,p15Green, p16Green,p17Green,p18Sim,p19Green,p20Green,
 p21Green,p22Green,p23Green,p24Green,p25Green];

function toPts(a) {
  if (typeof a[0] === 'number') return a.map((v, i) => [tideT[i], v]);
  return a;
}
const isTide = a => a && typeof a[0] === 'number';

const FONT = 'DejaVu Sans';
const GW = 289.5, GH = 154;
const grids = [], xAxes = [], yAxes = [], series = [], titleArr = [];
titles.forEach((t, i) => {
  const r = Math.floor(i / 5), c = i % 5;
  const left = 62 + 398.4 * c, top = 38 + 236.7 * r;
  grids.push({left: left, top: top, width: GW, height: GH, show: true, borderColor: '#000', borderWidth: 1, backgroundColor: '#fff', containLabel: false});
  titleArr.push({text: t, left: left + GW / 2, top: top - 24, textAlign: 'center', padding: 0,
    textStyle: {fontSize: 16.7, fontWeight: 'normal', fontFamily: FONT, color: '#000'}});
  xAxes.push({gridIndex: i, type: 'value', min: 0, max: 14, interval: 2,
    axisLine: {show: true, onZero: false, lineStyle: {color: '#000', width: 1}},
    axisTick: {show: true, length: 5, lineStyle: {color: '#000', width: 1}},
    splitLine: {show: false},
    axisLabel: {rotate: 20, align: 'center', verticalAlign: 'middle', margin: 28, showMinLabel: true, showMaxLabel: true,
      fontSize: 13.9, color: '#000', fontFamily: FONT,
      formatter: v => '2018-09-' + String(1 + v).padStart(2, '0')}});
  const dec = yDecimals[i];
  yAxes.push({gridIndex: i, type: 'value', min: yRanges[i][0], max: yRanges[i][1],
    axisLine: {show: true, onZero: false, lineStyle: {color: '#000', width: 1}},
    axisTick: {show: true, length: 5, customValues: yTicks[i], lineStyle: {color: '#000', width: 1}},
    splitLine: {show: false},
    axisLabel: {customValues: yTicks[i], rotate: 20, align: 'right', verticalAlign: 'middle', margin: 9,
      fontSize: 13.9, color: '#000', fontFamily: FONT,
      formatter: v => (v < -1e-9 ? '\u2212' + (-v).toFixed(dec) : Math.abs(v).toFixed(dec))}});
  if (obsData[i]) {
    series.push({type: 'line', name: seriesNames[0], xAxisIndex: i, yAxisIndex: i, data: toPts(obsData[i]),
      symbol: 'none', smooth: isTide(obsData[i]) ? 0.35 : false, silent: true, animation: false, z: 2,
      itemStyle: {color: '#ff0000'}, lineStyle: {color: '#ff0000', width: 6, join: 'round', cap: 'round'}});
  }
  series.push({type: 'line', name: seriesNames[1], xAxisIndex: i, yAxisIndex: i, data: toPts(blueData[i]),
    symbol: 'none', smooth: isTide(blueData[i]) ? 0.35 : false, silent: true, animation: false, z: 3,
    itemStyle: {color: '#0000ff'}, lineStyle: {color: '#0000ff', width: 2}});
  series.push({type: 'line', name: seriesNames[2], xAxisIndex: i, yAxisIndex: i, data: toPts(greenData[i]),
    symbol: 'none', smooth: isTide(greenData[i]) ? 0.35 : false, silent: true, animation: false, z: 4,
    itemStyle: {color: '#008000'}, lineStyle: {color: '#008000', width: 2}});
});

const LINE_ICON = 'path://M0,0H34V2.2H0Z';
const chart = echarts.init(document.getElementById('c'), null, {renderer: 'canvas'});
chart.setOption({
  backgroundColor: '#fff',
  animation: false,
  title: titleArr,
  legend: {left: 69, top: 45, orient: 'vertical', itemWidth: 34, itemHeight: 7, itemGap: 6,
    padding: [5, 8, 5, 3], borderColor: '#cccccc', borderWidth: 1, borderRadius: 3,
    backgroundColor: 'rgba(255,255,255,0.8)', z: 20,
    textStyle: {fontSize: 13.9, fontFamily: FONT, color: '#000'},
    data: [{name: 'obs', icon: 'circle', itemStyle: {color: '#ff0000'}},
           {name: 'RUN03b_JZ', icon: LINE_ICON, itemStyle: {color: '#0000ff', borderWidth: 0}},
           {name: 'RUN02h_JZ', icon: LINE_ICON, itemStyle: {color: '#008000', borderWidth: 0}}]},
  grid: grids, xAxis: xAxes, yAxis: yAxes, series: series
});
</script></body></html>
